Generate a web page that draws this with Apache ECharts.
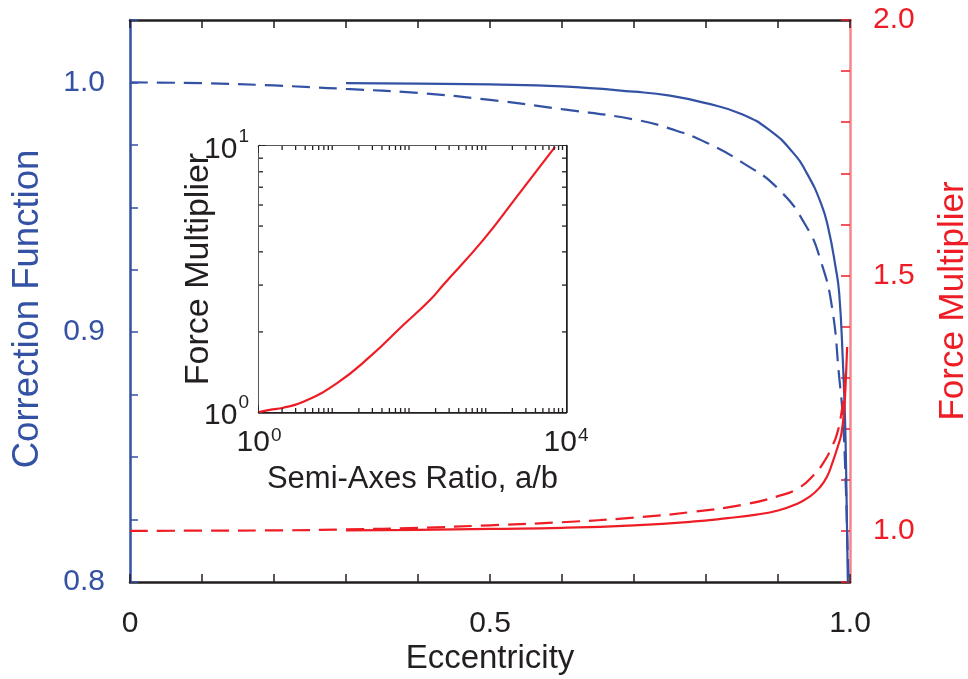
<!DOCTYPE html>
<html>
<head>
<meta charset="utf-8">
<script src="https://cdn.jsdelivr.net/npm/echarts@6/dist/echarts.min.js"></script>
<style>
  html, body { margin: 0; padding: 0; background: #fff; }
  #chart { width: 968px; height: 679px; }
</style>
</head>
<body>
<div id="chart"></div>
<script>
// Correction function (left axis) and force multiplier (right axis) vs eccentricity
const eccCorrSolid = [0.30, 0.40, 0.50, 0.60, 0.70, 0.75, 0.80, 0.85, 0.89, 0.92, 0.94, 0.96, 0.97, 0.98, 0.985, 0.99, 0.993, 0.995, 0.997];
const corrSolid    = [0.9997, 0.9995, 0.9992, 0.9984, 0.9963, 0.9947, 0.9917, 0.9873, 0.9805, 0.9722, 0.9637, 0.9514, 0.9414, 0.9260, 0.9156, 0.889, 0.866, 0.838, 0.800];

const eccCorrDash = [0, 0.10, 0.20, 0.25, 0.30, 0.40, 0.50, 0.60, 0.70, 0.75, 0.80, 0.85, 0.90, 0.94, 0.96, 0.975, 0.985, 0.99, 0.994, 0.996, 0.998];
const corrDash    = [1.0, 0.9997, 0.9988, 0.9981, 0.9974, 0.9958, 0.9930, 0.9893, 0.9852, 0.9815, 0.9760, 0.9680, 0.9575, 0.9420, 0.9280, 0.9100, 0.8820, 0.8660, 0.8400, 0.8200, 0.8000];

const eccForceSolid = [0.30, 0.40, 0.50, 0.60, 0.70, 0.78, 0.83, 0.87, 0.90, 0.925, 0.944, 0.958, 0.968, 0.976, 0.983, 0.988, 0.992, 0.994, 0.996];
const forceSolid    = [1.001, 1.002, 1.004, 1.006, 1.011, 1.018, 1.025, 1.032, 1.040, 1.052, 1.067, 1.085, 1.106, 1.135, 1.165, 1.190, 1.240, 1.290, 1.360];

const eccForceDash = [0, 0.10, 0.20, 0.30, 0.40, 0.50, 0.60, 0.70, 0.78, 0.85, 0.90, 0.93, 0.95, 0.963, 0.975, 0.982, 0.988, 0.992, 0.994];
const forceDash    = [1.000, 1.0005, 1.001, 1.003, 1.006, 1.011, 1.017, 1.026, 1.037, 1.051, 1.068, 1.085, 1.110, 1.133, 1.165, 1.190, 1.230, 1.276, 1.310];

// Inset: force multiplier vs semi-axes ratio (log-log)
const ratioInset = [1, 1.5, 2, 3.78, 10.3, 27.9, 75.9, 169, 251, 836, 2275, 7200];
const forceInset = [1.0, 1.023, 1.035, 1.093, 1.282, 1.614, 2.123, 2.636, 3.0, 4.436, 6.44, 9.93];

// Minor tick values for the inset log axes
const insetMinorX = [2,3,4,5,6,7,8,9, 20,30,40,50,60,70,80,90, 200,300,400,500,600,700,800,900, 2000,3000,4000,5000,6000,7000,8000,9000];
const insetMinorY = [2,3,4,5,6,7,8,9];

const BLUE = '#3452a4';
const RED = '#ee1d25';
const PINK = '#f3868c';
const INK = '#231f20';
const FONT = '"Liberation Sans", Arial, Helvetica, sans-serif';

const zip = (xs, ys) => xs.map((x, i) => [x, ys[i]]);
const near = (a, b) => Math.abs(a - b) < 1e-6;

function supLabel(v) {
  const p = Math.round(Math.log10(v));
  return '{b|10}{s|' + p + '}';
}
const supRichX = {
  b: { fontSize: 30, fontFamily: FONT, color: INK },
  s: { fontSize: 19, fontFamily: FONT, color: INK, verticalAlign: 'top', padding: [0, 0, 14, 1] }
};
const supRichY = {
  b: { fontSize: 30, fontFamily: FONT, color: INK, padding: [8, 0, 0, 0] },
  s: { fontSize: 19, fontFamily: FONT, color: INK, verticalAlign: 'top', padding: [0, 0, 14, 1] }
};

function minorTickSeries(values, isX) {
  return {
    type: 'custom',
    coordinateSystem: 'cartesian2d',
    xAxisIndex: 2,
    yAxisIndex: 2,
    silent: true,
    clip: false,
    z: 5,
    data: values.map(v => isX ? [v, 1] : [1, v]),
    renderItem: function (params, api) {
      const v = api.value(isX ? 0 : 1);
      const L = 4;
      const st = { stroke: INK, lineWidth: 1.3 };
      if (isX) {
        const b = api.coord([v, 1]);
        const t = api.coord([v, 10]);
        return { type: 'group', children: [
          { type: 'line', shape: { x1: b[0], y1: b[1], x2: b[0], y2: b[1] - L }, style: st },
          { type: 'line', shape: { x1: t[0], y1: t[1], x2: t[0], y2: t[1] + L }, style: st }
        ]};
      } else {
        const l = api.coord([1, v]);
        const r = api.coord([10000, v]);
        return { type: 'group', children: [
          { type: 'line', shape: { x1: l[0], y1: l[1], x2: l[0] + L, y2: l[1] }, style: st },
          { type: 'line', shape: { x1: r[0], y1: r[1], x2: r[0] - L, y2: r[1] }, style: st }
        ]};
      }
    }
  };
}

const chart = echarts.init(document.getElementById('chart'), null, { renderer: 'canvas' });

const option = {
  backgroundColor: '#ffffff',
  animation: false,
  textStyle: { fontFamily: FONT },
  grid: [
    { left: 130, right: 118, top: 20, bottom: 97, outerBoundsMode: 'none', containLabel: false },
    { left: 259, top: 146, width: 307, height: 266, show: true, backgroundColor: '#ffffff', borderWidth: 0, z: 3, outerBoundsMode: 'none', containLabel: false }
  ],
  xAxis: [
    {
      gridIndex: 0, type: 'value', position: 'bottom', min: 0, max: 1, interval: 0.1,
      name: 'Eccentricity', nameLocation: 'middle', nameGap: 60, nameMoveOverlap: false,
      nameTextStyle: { fontSize: 33, color: INK, fontFamily: FONT },
      axisLine: { onZero: false, lineStyle: { color: INK, width: 2.5 } },
      axisTick: { inside: true, length: 8, lineStyle: { color: INK, width: 1.5 } },
      axisLabel: {
        margin: 27, fontSize: 30, color: INK, fontFamily: FONT,
        formatter: v => near(v, 0) ? '0' : near(v, 0.5) ? '0.5' : near(v, 1) ? '1.0' : ''
      },
      splitLine: { show: false }
    },
    {
      gridIndex: 0, type: 'value', position: 'top', min: 0, max: 1, interval: 0.1,
      axisLine: { onZero: false, lineStyle: { color: INK, width: 2.5 } },
      axisTick: { inside: true, length: 8, lineStyle: { color: INK, width: 1.5 } },
      axisLabel: { show: false },
      splitLine: { show: false }
    },
    {
      gridIndex: 1, type: 'log', logBase: 10, position: 'bottom', min: 1, max: 10000,
      name: 'Semi-Axes Ratio, a/b', nameLocation: 'middle', nameGap: 52, nameMoveOverlap: false,
      nameTextStyle: { fontSize: 31, color: INK, fontFamily: FONT },
      axisLine: { onZero: false, lineStyle: { color: INK, width: 2.5 } },
      axisTick: { inside: true, length: 7, lineStyle: { color: INK, width: 1.5 } },
      axisLabel: {
        margin: 14, rich: supRichX,
        formatter: v => (near(v, 1) || near(v, 10000)) ? supLabel(v) : ''
      },
      splitLine: { show: false }
    },
    {
      gridIndex: 1, type: 'log', logBase: 10, position: 'top', min: 1, max: 10000,
      axisLine: { onZero: false, lineStyle: { color: INK, width: 2.5 } },
      axisTick: { inside: true, length: 7, lineStyle: { color: INK, width: 1.5 } },
      axisLabel: { show: false },
      splitLine: { show: false }
    }
  ],
  yAxis: [
    {
      gridIndex: 0, type: 'value', position: 'left', min: 0.8, max: 1.025, interval: 0.025,
      name: 'Correction Function', nameLocation: 'middle', nameGap: 84, nameMoveOverlap: false,
      nameTextStyle: { fontSize: 36.5, color: BLUE, fontFamily: FONT, padding: [0, 16, 0, 0] },
      axisLine: { onZero: false, lineStyle: { color: BLUE, width: 2.5 } },
      axisTick: { inside: true, length: 8, lineStyle: { color: BLUE, width: 1.5 } },
      axisLabel: {
        margin: 25, fontSize: 30, color: BLUE, fontFamily: FONT,
        formatter: v => near(v * 10, Math.round(v * 10)) ? v.toFixed(1) : ''
      },
      splitLine: { show: false }
    },
    {
      gridIndex: 0, type: 'value', position: 'right', min: 0.9, max: 2.0, interval: 0.1,
      name: 'Force Multiplier', nameLocation: 'middle', nameGap: 86, nameMoveOverlap: false,
      nameTextStyle: { fontSize: 35, color: RED, fontFamily: FONT },
      axisLine: { onZero: false, lineStyle: { color: PINK, width: 2.5 } },
      axisTick: { inside: true, length: 9, lineStyle: { color: RED, width: 1.5 } },
      axisLabel: {
        margin: 23, fontSize: 30, color: RED, fontFamily: FONT,
        formatter: v => (v > 0.95 && near(v * 2, Math.round(v * 2))) ? v.toFixed(1) : ''
      },
      splitLine: { show: false }
    },
    {
      gridIndex: 1, type: 'log', logBase: 10, position: 'left', min: 1, max: 10,
      name: 'Force Multiplier', nameLocation: 'middle', nameGap: 43, nameMoveOverlap: false,
      nameTextStyle: { fontSize: 34, color: INK, fontFamily: FONT, padding: [0, 0, 0, 20] },
      axisLine: { onZero: false, lineStyle: { color: INK, width: 2.5 } },
      axisTick: { inside: true, length: 7, lineStyle: { color: INK, width: 1.5 } },
      axisLabel: { margin: 10, rich: supRichY, formatter: v => supLabel(v) },
      splitLine: { show: false }
    },
    {
      gridIndex: 1, type: 'log', logBase: 10, position: 'right', min: 1, max: 10,
      axisLine: { onZero: false, lineStyle: { color: INK, width: 2.5 } },
      axisTick: { inside: true, length: 7, lineStyle: { color: INK, width: 1.5 } },
      axisLabel: { show: false },
      splitLine: { show: false }
    }
  ],
  series: [
    {
      name: 'Correction (solid)', type: 'line', xAxisIndex: 0, yAxisIndex: 0,
      data: zip(eccCorrSolid, corrSolid), showSymbol: false, smooth: 0.5,
      lineStyle: { color: BLUE, width: 2.2 }, clip: true, z: 2
    },
    {
      name: 'Correction (dashed)', type: 'line', xAxisIndex: 0, yAxisIndex: 0,
      data: zip(eccCorrDash, corrDash), showSymbol: false, smooth: 0.5,
      lineStyle: { color: BLUE, width: 2.2, type: [18, 9] }, clip: true, z: 2
    },
    {
      name: 'Force (solid)', type: 'line', xAxisIndex: 0, yAxisIndex: 1,
      data: zip(eccForceSolid, forceSolid), showSymbol: false, smooth: 0.5,
      lineStyle: { color: RED, width: 2.2 }, clip: true, z: 2
    },
    {
      name: 'Force (dashed)', type: 'line', xAxisIndex: 0, yAxisIndex: 1,
      data: zip(eccForceDash, forceDash), showSymbol: false, smooth: 0.5,
      lineStyle: { color: RED, width: 2.2, type: [18, 9] }, clip: true, z: 2
    },
    {
      name: 'Inset force', type: 'line', xAxisIndex: 2, yAxisIndex: 2,
      data: zip(ratioInset, forceInset), showSymbol: false, smooth: 0.5,
      lineStyle: { color: RED, width: 2.2 }, clip: true, z: 4
    },
    minorTickSeries(insetMinorX, true),
    minorTickSeries(insetMinorY, false)
  ]
};

chart.setOption(option);
</script>
</body>
</html>
